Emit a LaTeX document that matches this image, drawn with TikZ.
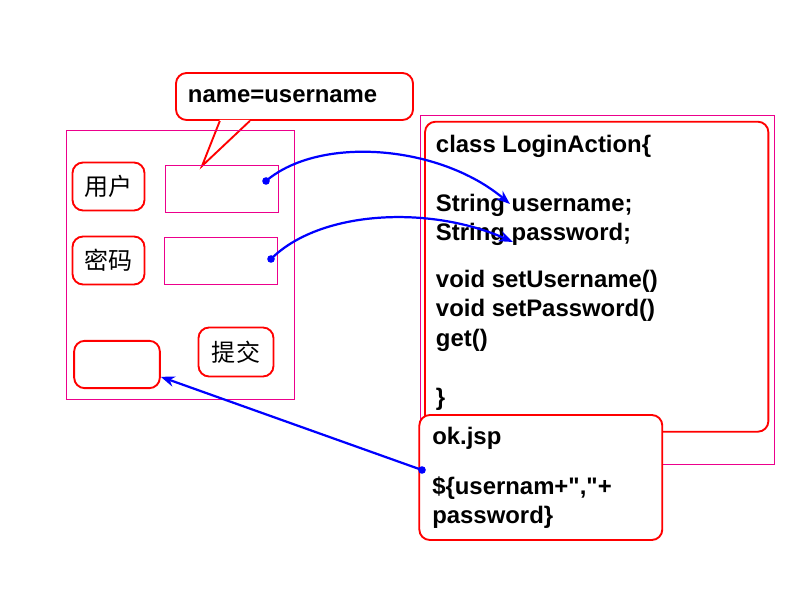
\documentclass[tikz,border=0pt]{standalone}
\usepackage{fontspec}
\setmainfont{Liberation Sans}[Ligatures=TeXOff]
\newfontfamily\cjkfont{Noto Sans CJK SC}
\usetikzlibrary{arrows.meta}

\begin{document}
\begin{tikzpicture}[
  x=0.03cm, y=-0.03cm,
  pinkframe/.style={rectangle, draw=magenta, line width=0.8pt},
  rbox/.style={rectangle, draw=red, line width=1.6pt, rounded corners=9pt, fill=white},
  cnbox/.style={rbox, minimum width=2.16cm, minimum height=1.44cm, font=\cjkfont\fontsize{20.5pt}{24pt}\selectfont},
  field/.style={pinkframe, minimum width=3.39cm, minimum height=1.4cm},
  codetext/.style={font=\fontsize{20.4pt}{24.8pt}\selectfont\bfseries, align=left},
  blobdot/.style={circle, fill=blue, inner sep=0pt, minimum size=6.5pt},
  link/.style={-{Stealth[length=12pt,width=9pt]}, blue, line width=1.9pt}
]
\useasboundingbox (0,0) rectangle (800,600);

% callout over the user field
\node[rbox, codetext, minimum width=7.11cm, minimum height=1.41cm, text width=6.39cm, inner xsep=0.36cm] (callout) at (294.5,96.5) {name=username};
\coordinate (ptip) at (202,166);
\fill[white] ([xshift=-2.24cm,yshift=1pt]callout.south) -- (ptip) -- ([xshift=-1.34cm,yshift=1pt]callout.south) -- cycle;
\draw[red, line width=1.6pt] ([xshift=-2.24cm]callout.south) -- (ptip) -- ([xshift=-1.34cm]callout.south);

% login form
\node[pinkframe, minimum width=6.85cm, minimum height=8.06cm] (form) at (180.5,264.7) {};
\node[cnbox] (user) at (108.5,186.5) {用户};
\node[field] (userin) at (222,189) {};
\node[cnbox] (pass) at (108.5,260.5) {密码};
\node[field] (passin) at (221,261) {};
\node[rbox, minimum width=2.57cm, minimum height=1.42cm] (answer) at (117,364.5) {};
\node[cnbox, minimum width=2.25cm, minimum height=1.47cm] (submit) at (236,352) {提交};

% action class
\node[pinkframe, minimum width=10.63cm, minimum height=10.45cm] (bean) at (597.5,289.8) {};
\node[rbox, minimum width=10.3cm, minimum height=9.3cm] (action) at (596.7,276.7) {};
\node[codetext, anchor=north west, inner sep=0pt] (actiontext) at ([xshift=0.35cm,yshift=-0.44cm]action.north west)
  {class LoginAction\{\\[24.8pt]String username;\\String password;\\[16pt]void setUsername()\\void setPassword()\\get()\\[26pt]\}};

% result page
\node[rbox, codetext, minimum width=7.29cm, minimum height=3.75cm, text width=6.51cm, inner xsep=0.39cm] (okjsp) at (540.8,477.5)
  {ok.jsp\\[18pt]\$\{usernam+","+\\password\}};

% links
\node[blobdot] (userdot) at (266,181) {};
\node[blobdot] (passdot) at (271,259) {};
\node[blobdot] (okdot) at (422,470) {};
\coordinate (userend) at (510,204);
\coordinate (passend) at (513,242);
\draw[link] (userdot.center) .. controls (320,135) and (440,145) .. (userend);
\draw[link] (passdot.center) .. controls (320,210) and (430,205) .. (passend);
\draw[link] (okdot.center) -- ([yshift=-0.37cm]answer.east);
\end{tikzpicture}
\end{document}
